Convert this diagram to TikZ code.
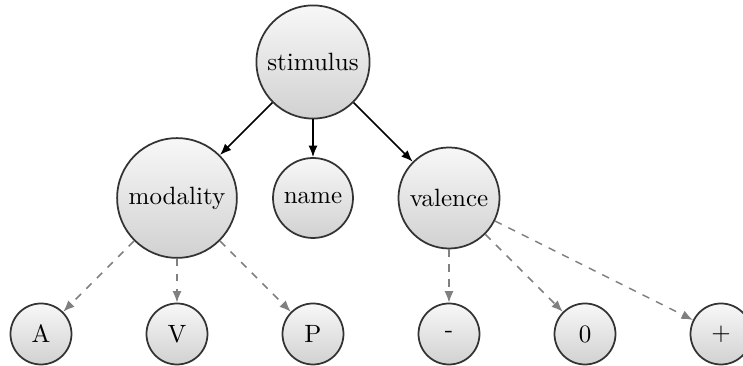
\documentclass[tikz,border=0pt]{standalone}
\usepackage{tikz}
\usetikzlibrary{arrows.meta}

\begin{document}
\begin{tikzpicture}[auto, node distance = 54.4pt, >={Latex[length=4.6pt, width=3.6pt]},%
	every node/.style={circle, draw=black!80, line width=0.7pt, minimum size=24.4pt,
		top color=gray!6, bottom color=gray!36}]
	\useasboundingbox (-125.2pt,24.8pt) rectangle (172pt,-121.6pt);
	\node (stimulus) {stimulus};
	\node (name) [below of = stimulus] {name};
	\node (modality) [left of = name] {modality};
	\node (valence) [right of = name] {valence};

	\node (V) [below of = modality] {V};
	\node (A) [left of = V] {A};
	\node (P) [right of = V] {P};
	\node (minus) [below of = valence] {-};
	\node (zero) [right of = minus] {0};
	\node (plus) [right of = zero] {+};

	\path[->, semithick]
	(stimulus) edge (modality)
		edge (name)
		edge (valence);
	\path[->, dashed, gray, semithick]
	(modality) edge (A)
		edge (V)
		edge (P)
	(valence) edge (minus)
		edge (zero)
		edge (plus);
\end{tikzpicture}
\end{document}
